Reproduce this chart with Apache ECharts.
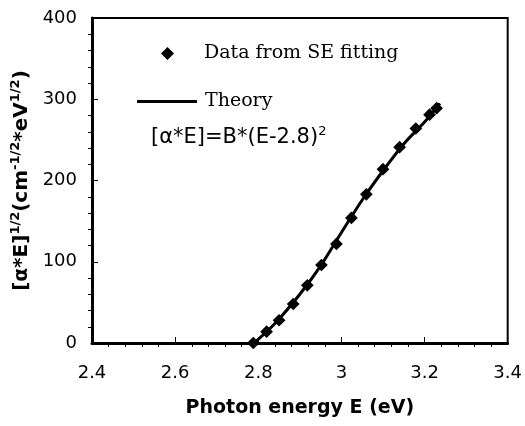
<!DOCTYPE html>
<html>
<head>
<meta charset="utf-8">
<script src="https://cdn.jsdelivr.net/npm/echarts@6/dist/echarts.min.js"></script>
<style>
  html, body { margin: 0; padding: 0; background: #fff; }
  #chart { width: 525px; height: 426px; }
</style>
</head>
<body>
<div id="chart"></div>
<script>
// data
const dataEnergy = [2.788, 2.82, 2.85, 2.884, 2.918, 2.952, 2.988, 3.024, 3.06, 3.10, 3.14, 3.179, 3.212, 3.229];
const dataValue  = [0, 14, 28, 48, 71, 96, 122, 154, 183, 214, 241, 264, 281, 289];

const theoryEnergy = [2.79, 2.84, 2.90, 2.95, 3.00, 3.05, 3.10, 3.15, 3.20, 3.237];
const theoryValue  = [0, 24, 60, 95, 136, 176, 212, 245, 272, 295];

const xTicks = [2.4, 2.6, 2.8, 3, 3.2, 3.4];
const yTicks = [0, 100, 200, 300, 400];

const sansFont = "DejaVu Sans, Arial, sans-serif";
const serifFont = "DejaVu Serif, Times New Roman, serif";

const chart = echarts.init(document.getElementById("chart"));

chart.setOption({
    animation: false,
    backgroundColor: "#fff",
    grid: {
        left: 92,
        right: 17,
        top: 18,
        bottom: 83,
        show: true,
        borderColor: "#000",
        borderWidth: 2
    },
    legend: [
        {
            left: 156,
            top: 39,
            itemWidth: 13,
            itemHeight: 13,
            data: [{ name: "Data from SE fitting", icon: "diamond" }],
            itemStyle: { color: "#000", opacity: 1 },
            textStyle: {
                fontFamily: serifFont,
                fontSize: 19,
                color: "#000",
                padding: [0, 0, 0, 25]
            }
        },
        {
            left: 132,
            top: 87,
            itemWidth: 60,
            itemHeight: 3,
            data: [{ name: "Theory", icon: "rect" }],
            textStyle: {
                fontFamily: serifFont,
                fontSize: 19,
                color: "#000",
                padding: [0, 0, 0, 3]
            }
        }
    ],
    graphic: [
        {
            type: "text",
            left: 151,
            top: 125,
            style: {
                text: "[α*E]=B*(E-2.8){s|2}",
                font: "21px " + sansFont,
                fill: "#000",
                rich: {
                    s: { fontSize: 13, fontFamily: sansFont, padding: [0, 0, 13, 0] }
                }
            }
        }
    ],
    xAxis: {
        type: "value",
        min: 2.4,
        max: 3.4,
        interval: 0.2,
        name: "Photon energy E (eV)",
        nameLocation: "middle",
        nameGap: 56,
        nameTextStyle: { fontFamily: sansFont, fontSize: 19, fontWeight: "bold", color: "#000" },
        axisLine: { lineStyle: { color: "#000", width: 3 } },
        axisTick: { inside: true, length: 6, lineStyle: { color: "#000" } },
        minorTick: { show: true, splitNumber: 5, length: -4, lineStyle: { color: "#000" } },
        splitLine: { show: false },
        axisLabel: {
            fontFamily: sansFont,
            fontSize: 18,
            color: "#000",
            margin: 21,
            formatter: v => {
                const t = xTicks.find(k => Math.abs(k - v) < 1e-6);
                return t === undefined ? "" : String(t);
            }
        }
    },
    yAxis: {
        type: "value",
        min: 0,
        max: 400,
        interval: 100,
        name: "[α*E]{s|1/2}(cm{s|-1/2}*eV{s|1/2})",
        nameLocation: "middle",
        nameGap: 47,
        nameRotate: 90,
        nameTextStyle: {
            fontFamily: sansFont,
            fontSize: 20,
            fontWeight: "bold",
            color: "#000",
            rich: {
                s: { fontSize: 13, fontWeight: "bold", fontFamily: sansFont, padding: [0, 0, 12, 0] }
            }
        },
        axisLine: { lineStyle: { color: "#000", width: 3 } },
        axisTick: { inside: true, length: 6, lineStyle: { color: "#000" } },
        minorTick: { show: true, splitNumber: 5, length: -4, lineStyle: { color: "#000" } },
        splitLine: { show: false },
        axisLabel: {
            fontFamily: sansFont,
            fontSize: 18,
            color: "#000",
            margin: 15,
            formatter: v => {
                const t = yTicks.find(k => k === v);
                return t === undefined ? "" : String(t);
            }
        }
    },
    series: [
        {
            name: "Data from SE fitting",
            type: "scatter",
            symbol: "rect",
            symbolRotate: 45,
            symbolSize: 9,
            itemStyle: { color: "#000", opacity: 1 },
            z: 3,
            data: dataEnergy.map((e, i) => [e, dataValue[i]])
        },
        {
            name: "Theory",
            type: "line",
            symbol: "none",
            smooth: 0.3,
            lineStyle: { color: "#000", width: 3 },
            itemStyle: { color: "#000" },
            z: 2,
            data: theoryEnergy.map((e, i) => [e, theoryValue[i]])
        }
    ]
});
</script>
</body>
</html>
